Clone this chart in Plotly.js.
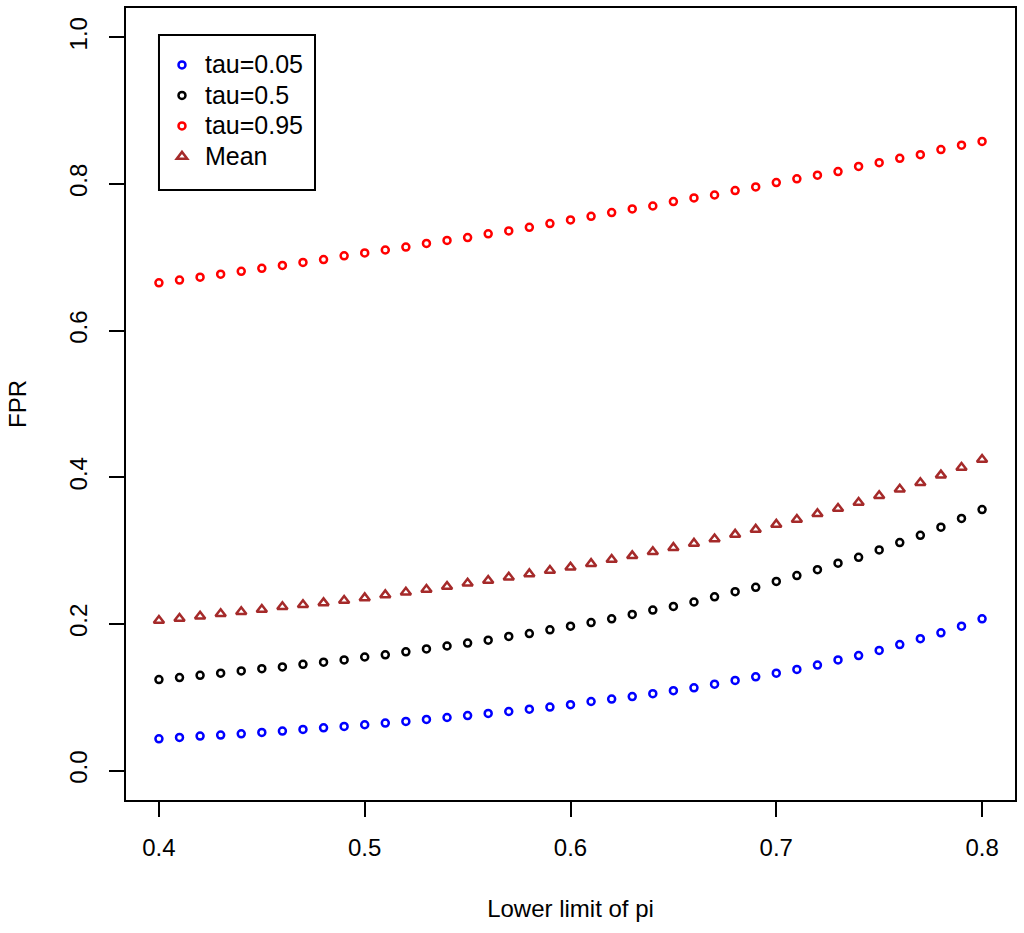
<!DOCTYPE html>
<html>
<head>
<meta charset="utf-8">
<script src="https://cdn.plot.ly/plotly-3.0.1.min.js"></script>
<style>html,body{margin:0;padding:0;background:#fff;}#chart{width:1024px;height:933px;}</style>
</head>
<body>
<div id="chart"></div>
<script>
var lowerLimit = [0.40,0.41,0.42,0.43,0.44,0.45,0.46,0.47,0.48,0.49,0.50,0.51,0.52,0.53,0.54,0.55,0.56,0.57,0.58,0.59,0.60,0.61,0.62,0.63,0.64,0.65,0.66,0.67,0.68,0.69,0.70,0.71,0.72,0.73,0.74,0.75,0.76,0.77,0.78,0.79,0.80];

var tau005 = [0.0435,0.0453,0.0472,0.0486,0.0503,0.0521,0.0540,0.0562,0.0585,0.0603,0.0626,0.0649,0.0671,0.0698,0.0725,0.0752,0.0780,0.0807,0.0839,0.0867,0.0900,0.0943,0.0976,0.1010,0.1050,0.1090,0.1130,0.1180,0.1230,0.1280,0.1330,0.1380,0.1440,0.1510,0.1570,0.1640,0.1720,0.1800,0.1880,0.1970,0.2070];

var tau05 = [0.1242,0.1270,0.1300,0.1330,0.1360,0.1390,0.1415,0.1450,0.1480,0.1510,0.1550,0.1580,0.1620,0.1660,0.1700,0.1740,0.1780,0.1830,0.1870,0.1920,0.1970,0.2020,0.2070,0.2130,0.2190,0.2240,0.2300,0.2370,0.2440,0.2500,0.2580,0.2660,0.2740,0.2830,0.2910,0.3010,0.3110,0.3210,0.3320,0.3440,0.3560];

var tau095 = [0.6653,0.6690,0.6730,0.6770,0.6810,0.6850,0.6890,0.6930,0.6970,0.7020,0.7060,0.7100,0.7140,0.7190,0.7230,0.7270,0.7320,0.7360,0.7410,0.7460,0.7510,0.7560,0.7610,0.7660,0.7700,0.7760,0.7810,0.7850,0.7910,0.7960,0.8020,0.8070,0.8120,0.8170,0.8240,0.8290,0.8350,0.8400,0.8470,0.8530,0.8580];

var meanFPR = [0.2048,0.2075,0.2106,0.2139,0.2166,0.2197,0.2234,0.2261,0.2288,0.2320,0.2356,0.2397,0.2433,0.2469,0.2510,0.2555,0.2592,0.2637,0.2683,0.2728,0.2773,0.2823,0.2878,0.2929,0.2986,0.3041,0.3099,0.3159,0.3222,0.3290,0.3358,0.3426,0.3503,0.3576,0.3657,0.3748,0.3837,0.3925,0.4030,0.4133,0.4242];

var seriesNames = ["tau=0.05","tau=0.5","tau=0.95","Mean"];
var xTicks = [0.4,0.5,0.6,0.7,0.8];
var yTicks = [0.0,0.2,0.4,0.6,0.8,1.0];

var FONT = "Liberation Sans, Arial, Helvetica, sans-serif";

function legendLabel(s) { return "<span style='font-size:25px'>" + s + "</span>"; }

function circ(y, name, color) {
  return {x: lowerLimit, y: y, name: legendLabel(name), type: "scatter", mode: "markers",
    marker: {symbol: "circle-open", size: 7, color: color, line: {width: 2.5, color: color}}};
}
var traces = [
  circ(tau005, seriesNames[0], "#0000FF"),
  circ(tau05, seriesNames[1], "#000000"),
  circ(tau095, seriesNames[2], "#FF0000"),
  {x: lowerLimit, y: meanFPR, name: legendLabel(seriesNames[3]), type: "scatter", mode: "markers",
    marker: {symbol: "triangle-up-open", size: 9, color: "#A52A2A", line: {width: 2.5, color: "#A52A2A"}}}
];

var axisCommon = {
  showgrid: false, zeroline: false, showline: true, mirror: true,
  linecolor: "#000", linewidth: 2, ticks: "outside", ticklen: 15, tickwidth: 2, tickcolor: "#000",
  tickfont: {family: FONT, size: 24, color: "#000"}
};

var layout = {
  width: 1024, height: 933,
  paper_bgcolor: "#fff", plot_bgcolor: "#fff",
  margin: {l: 126, r: 9, t: 8, b: 133},
  showlegend: true,
  legend: {x: 0.0371, y: 0.9537, xanchor: "left", yanchor: "top",
    borderwidth: 0, bgcolor: "rgba(0,0,0,0)", itemwidth: 36,
    font: {family: FONT, size: 21.15, color: "#000"}},
  shapes: [{type: "rect", xref: "paper", yref: "paper",
    x0: 0.0371, x1: 0.2126, y0: 0.7702, y1: 0.9659,
    line: {color: "#000", width: 2}, fillcolor: "#fff", layer: "below"}],
  xaxis: Object.assign({}, axisCommon, {
    range: [0.384, 0.816], tickvals: xTicks, ticktext: xTicks.map(function(v){return v.toFixed(1);}),
    ticklabelstandoff: 10,
    title: {text: "Lower limit of pi", font: {family: FONT, size: 24, color: "#000"}, standoff: 40}
  }),
  yaxis: Object.assign({}, axisCommon, {
    range: [-0.04, 1.04], tickvals: yTicks, ticktext: yTicks.map(function(v){return v.toFixed(1);}),
    tickangle: -90, ticklabelstandoff: 12,
    title: {text: "FPR", font: {family: FONT, size: 24, color: "#000"}, standoff: 32}
  })
};

Plotly.newPlot("chart", traces, layout, {displayModeBar: false, staticPlot: true});
</script>
</body>
</html>
